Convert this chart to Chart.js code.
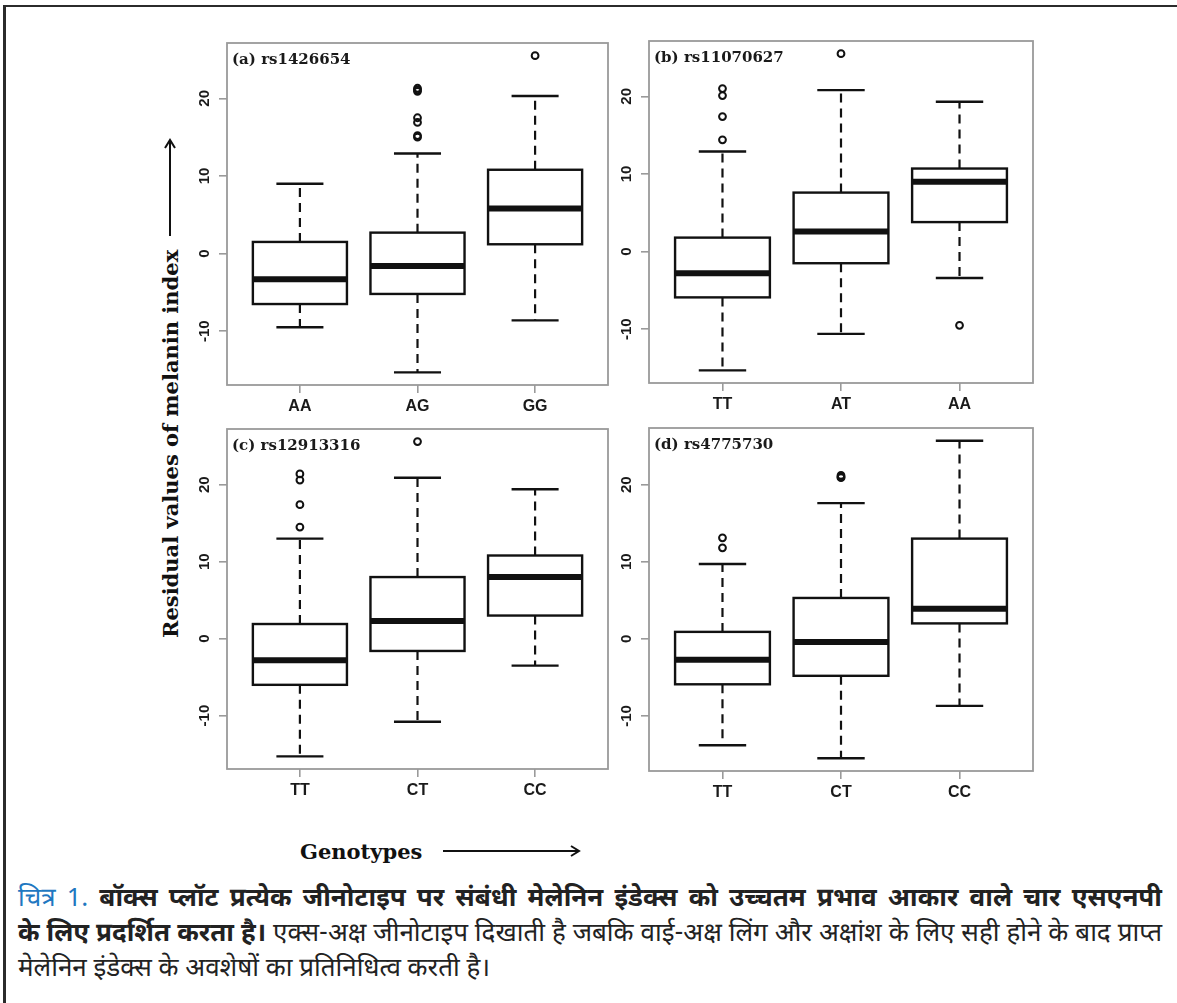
<!DOCTYPE html>
<html>
<head>
<meta charset="utf-8">
<script src="https://cdn.jsdelivr.net/npm/chart.js@4.4.1/dist/chart.umd.min.js"></script>
<style>
  html, body { margin: 0; padding: 0; background: #fff; width: 1177px; height: 1003px; overflow: hidden; }
  #frame { position: absolute; left: 3px; top: 5px; width: 1300px; height: 1100px;
           border-top: 2px solid #2b2b2b; border-left: 3px solid #2b2b2b; }
  canvas { position: absolute; }
  .ptitle { position: absolute; font: bold 15px "DejaVu Serif", serif; color: #1a1a1a; white-space: nowrap; line-height: 16px; }
  #ylabel { position: absolute; left: 157px; top: 638px; height: 26px; line-height: 26px;
            transform-origin: 0 0; transform: rotate(-90deg); white-space: nowrap;
            font: bold 21px "DejaVu Serif", serif; color: #111; display: flex; align-items: center; }
  #xlabel { position: absolute; left: 300px; top: 837px; height: 28px; line-height: 28px; white-space: nowrap;
            font: bold 21px "DejaVu Serif", serif; color: #111; display: flex; align-items: center; }
  #caption { position: absolute; left: 18px; top: 883px; width: 1144px;
             font-family: "Noto Sans Devanagari", "Lohit Devanagari", "Noto Serif Devanagari", "Mangal", sans-serif;
             font-size: 26px; line-height: 35px; color: #222; }
  #caption .full { text-align: justify; text-align-last: justify; white-space: nowrap; }
  #caption .fig { color: #1f78c1; font-weight: normal; }
</style>
</head>
<body>
<div id="frame"></div>

<div id="ylabel">Residual values of melanin index<svg width="112" height="14" style="margin-left:14px"><line x1="0" y1="7" x2="96" y2="7" stroke="#111" stroke-width="2"/><polyline points="88,2 96,7 88,12" fill="none" stroke="#111" stroke-width="2"/></svg></div>

<div id="xlabel">Genotypes<svg width="150" height="14" style="margin-left:21px"><line x1="0" y1="7" x2="136" y2="7" stroke="#111" stroke-width="2"/><polyline points="128,2 136,7 128,12" fill="none" stroke="#111" stroke-width="2"/></svg></div>

<div id="caption">
  <div class="full"><span class="fig">चित्र 1.</span> <b>बॉक्स प्लॉट प्रत्येक जीनोटाइप पर संबंधी मेलेनिन इंडेक्स को उच्चतम प्रभाव आकार वाले चार एसएनपी</b></div>
  <div class="full"><b>के लिए प्रदर्शित करता है।</b> एक्स-अक्ष जीनोटाइप दिखाती है जबकि वाई-अक्ष लिंग और अक्षांश के लिए सही होने के बाद प्राप्त</div>
  <div>मेलेनिन इंडेक्स के अवशेषों का प्रतिनिधित्व करती है।</div>
</div>

<script>
// values
const panelTitles = ['(a) rs1426654', '(b) rs11070627', '(c) rs12913316', '(d) rs4775730'];
const genotypes = [['AA', 'AG', 'GG'], ['TT', 'AT', 'AA'], ['TT', 'CT', 'CC'], ['TT', 'CT', 'CC']];
const lowerWhisker = [[-9.5, -15.3, -8.6], [-15.3, -10.6, -3.4], [-15.3, -10.8, -3.5], [-13.8, -15.5, -8.7]];
const lowerQuartile = [[-6.5, -5.2, 1.2], [-5.9, -1.5, 3.8], [-6.0, -1.6, 3.0], [-5.9, -4.8, 2.0]];
const medians = [[-3.3, -1.6, 5.8], [-2.8, 2.6, 9.0], [-2.8, 2.3, 8.0], [-2.7, -0.4, 3.9]];
const upperQuartile = [[1.5, 2.7, 10.8], [1.8, 7.6, 10.7], [1.9, 8.0, 10.8], [0.9, 5.3, 13.0]];
const upperWhisker = [[9.0, 12.9, 20.3], [12.9, 20.8, 19.3], [13.0, 20.9, 19.4], [9.7, 17.6, 25.7]];
const outliers = [
  [[], [21.3, 21.1, 20.9, 17.5, 16.9, 15.2, 15.0], [25.5]],
  [[21.0, 20.1, 17.4, 14.4], [25.5], [-9.5]],
  [[21.4, 20.6, 17.4, 14.5], [25.6], []],
  [[13.1, 11.8], [21.2, 21.0, 20.9], []]
];
const yTicks = [-10, 0, 10, 20];

// where each plot frame sits on the page
const plotBoxes = [
  { left: 227, top: 43, right: 608, bottom: 385 },
  { left: 649, top: 41, right: 1033, bottom: 383 },
  { left: 227, top: 429, right: 608, bottom: 769 },
  { left: 649, top: 428, right: 1033, bottom: 771 }
];
const AXIS_W = 60, AXIS_H = 42, PAD_T = 16, PAD_R = 8;
const frameGrey = '#9a9a9a';

const boxPlugin = {
  id: 'boxplot',
  beforeDatasetsDraw(chart, args, opts) {
    const p = opts.panel;
    const { ctx, scales: { x, y } } = chart;
    ctx.save();
    ctx.strokeStyle = '#111';
    genotypes[p].forEach((g, i) => {
      const cx = x.getPixelForValue(i + 1);
      const half = x.getPixelForValue(i + 1.4) - cx;
      const cap = half / 2;
      const yLo = y.getPixelForValue(lowerWhisker[p][i]);
      const yQ1 = y.getPixelForValue(lowerQuartile[p][i]);
      const yMed = y.getPixelForValue(medians[p][i]);
      const yQ3 = y.getPixelForValue(upperQuartile[p][i]);
      const yHi = y.getPixelForValue(upperWhisker[p][i]);
      // dashed whiskers
      ctx.lineWidth = 2.2;
      ctx.setLineDash([9, 6]);
      ctx.beginPath();
      ctx.moveTo(cx, yQ3); ctx.lineTo(cx, yHi);
      ctx.moveTo(cx, yQ1); ctx.lineTo(cx, yLo);
      ctx.stroke();
      ctx.setLineDash([]);
      // staples
      ctx.lineWidth = 2.4;
      ctx.beginPath();
      ctx.moveTo(cx - cap, yHi); ctx.lineTo(cx + cap, yHi);
      ctx.moveTo(cx - cap, yLo); ctx.lineTo(cx + cap, yLo);
      ctx.stroke();
      // box
      ctx.fillStyle = '#fff';
      ctx.fillRect(cx - half, yQ3, 2 * half, yQ1 - yQ3);
      ctx.lineWidth = 2.4;
      ctx.strokeRect(cx - half, yQ3, 2 * half, yQ1 - yQ3);
      // median
      ctx.lineWidth = 6;
      ctx.beginPath();
      ctx.moveTo(cx - half, yMed); ctx.lineTo(cx + half, yMed);
      ctx.stroke();
    });
    ctx.restore();
  },
  afterDraw(chart) {
    const { ctx, chartArea: a } = chart;
    ctx.save();
    ctx.strokeStyle = frameGrey;
    ctx.lineWidth = 1.8;
    ctx.strokeRect(a.left, a.top, a.right - a.left, a.bottom - a.top);
    ctx.restore();
  }
};

function makePanel(p) {
  const b = plotBoxes[p];
  const canvas = document.createElement('canvas');
  canvas.width = b.right - b.left + AXIS_W + PAD_R;
  canvas.height = b.bottom - b.top + PAD_T + AXIS_H;
  canvas.style.left = (b.left - AXIS_W) + 'px';
  canvas.style.top = (b.top - PAD_T) + 'px';
  document.body.appendChild(canvas);

  const title = document.createElement('div');
  title.className = 'ptitle';
  title.textContent = panelTitles[p];
  title.style.left = (b.left + 5) + 'px';
  title.style.top = (b.top + 8) + 'px';
  document.body.appendChild(title);

  // R style range: data extent plus 4% either side
  let all = lowerWhisker[p].concat(upperWhisker[p]);
  outliers[p].forEach((o) => { all = all.concat(o); });
  const lo = Math.min(...all), hi = Math.max(...all);
  const ext = (hi - lo) * 0.04;

  const points = [];
  outliers[p].forEach((vals, i) => vals.forEach((v) => points.push({ x: i + 1, y: v })));
  const positions = genotypes[p].map((g, i) => i + 1);

  const tickFont = { family: '"Liberation Sans", Arial, sans-serif', weight: 'bold' };

  new Chart(canvas, {
    type: 'scatter',
    data: {
      datasets: [{
        data: points,
        pointRadius: 3.4,
        pointHoverRadius: 3.4,
        borderWidth: 2,
        borderColor: '#111',
        backgroundColor: 'rgba(0,0,0,0)'
      }]
    },
    options: {
      responsive: false,
      animation: false,
      events: [],
      layout: { padding: { top: PAD_T, right: PAD_R, left: 0, bottom: 0 } },
      plugins: { legend: { display: false }, tooltip: { enabled: false }, boxplot: { panel: p } },
      scales: {
        x: {
          type: 'linear',
          min: 0.38,
          max: genotypes[p].length + 0.62,
          afterBuildTicks: (s) => { s.ticks = positions.map((v) => ({ value: v })); },
          afterFit: (s) => { s.height = AXIS_H; },
          border: { display: false },
          grid: { drawOnChartArea: false, drawTicks: true, tickLength: 8, color: frameGrey, lineWidth: 1.6 },
          ticks: {
            padding: 4,
            color: '#1a1a1a',
            font: Object.assign({ size: 16 }, tickFont),
            callback: (v, i) => genotypes[p][i]
          }
        },
        y: {
          min: lo - ext,
          max: hi + ext,
          afterBuildTicks: (s) => { s.ticks = yTicks.map((v) => ({ value: v })); },
          afterFit: (s) => { s.width = AXIS_W; },
          border: { display: false },
          grid: { drawOnChartArea: false, drawTicks: true, tickLength: 8, color: frameGrey, lineWidth: 1.6 },
          ticks: {
            minRotation: 90,
            maxRotation: 90,
            crossAlign: 'center',
            autoSkip: false,
            padding: 3,
            color: '#1a1a1a',
            font: Object.assign({ size: 15 }, tickFont)
          }
        }
      }
    },
    plugins: [boxPlugin]
  });
}

panelTitles.forEach((t, p) => makePanel(p));
</script>
</body>
</html>
